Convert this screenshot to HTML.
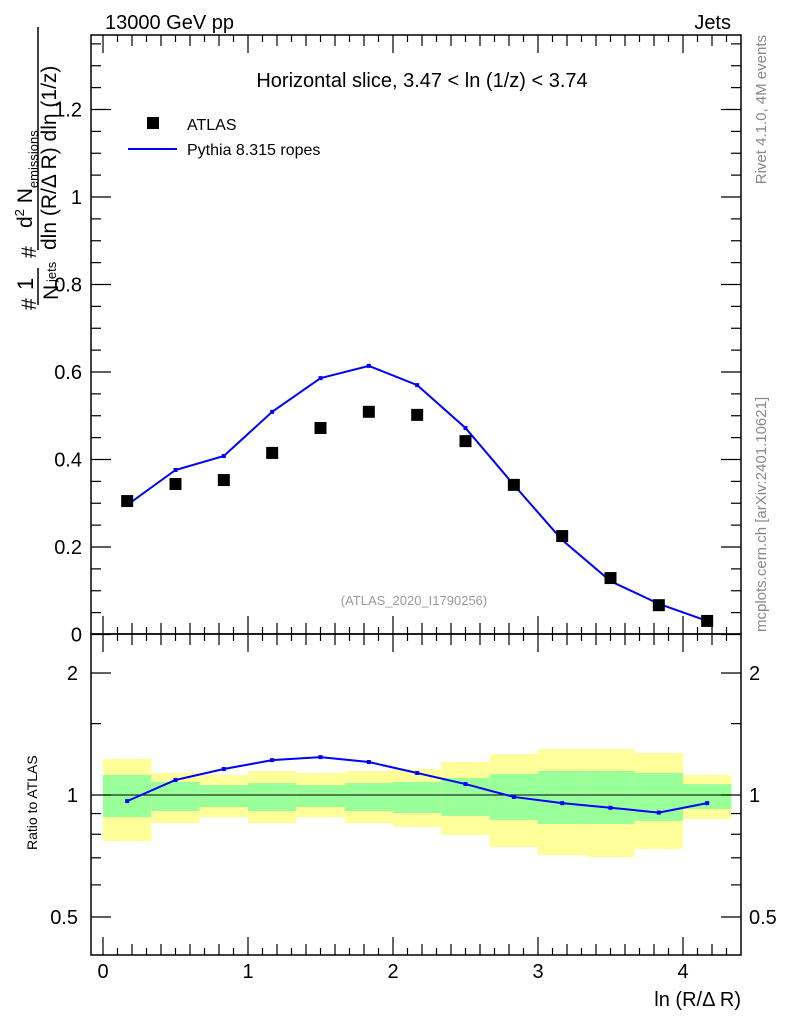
<!DOCTYPE html>
<html><head><meta charset="utf-8">
<style>
html,body{margin:0;padding:0;background:#fff;}
svg{display:block;font-family:"Liberation Sans",sans-serif;}
</style></head>
<body>
<svg id="chart" width="786" height="1024" viewBox="0 0 786 1024" xmlns="http://www.w3.org/2000/svg">
<g id="bands"></g>
<g id="frame"></g>
<g id="ticks"></g>
<g id="marks"></g>
<text x="105" y="29" font-size="20">13000 GeV pp</text>
<text x="731" y="29" font-size="20" text-anchor="end">Jets</text>
<text x="422" y="87" font-size="20" text-anchor="middle">Horizontal slice, 3.47 &lt; ln (1/z) &lt; 3.74</text>
<rect x="147" y="117" width="12" height="12" fill="#000"/>
<text x="187" y="130" font-size="16">ATLAS</text>
<line x1="128" y1="149" x2="177" y2="149" stroke="#00f" stroke-width="2"/>
<text x="187" y="155" font-size="16">Pythia 8.315 ropes</text>
<text x="414" y="605" font-size="13" fill="#999" text-anchor="middle">(ATLAS_2020_I1790256)</text>
<text transform="translate(766,35) rotate(-90)" font-size="15" fill="#888" text-anchor="end">Rivet 4.1.0,  4M events</text>
<text transform="translate(766,632) rotate(-90)" font-size="15" fill="#888">mcplots.cern.ch [arXiv:2401.10621]</text>
<g font-size="21">
<text transform="translate(36,310) rotate(-90)">#</text>
<text transform="translate(33,290) rotate(-90)" font-size="22">1</text>
<line x1="38" y1="305" x2="38" y2="268" stroke="#000" stroke-width="1.5"/>
<text transform="translate(58,300) rotate(-90)">N</text>
<text transform="translate(56,282) rotate(-90)" font-size="13">jets</text>
<text transform="translate(36,258) rotate(-90)">#</text>
<text transform="translate(32,228) rotate(-90)">d<tspan font-size="13" dy="-8">2</tspan><tspan dy="8"> N</tspan><tspan font-size="13" dy="6">emissions</tspan></text>
<line x1="38" y1="250" x2="38" y2="27" stroke="#000" stroke-width="1.5"/>
<text transform="translate(56,250) rotate(-90)">dln (R/Δ R) dln (1/z)</text>
</g>
<text transform="translate(37,850) rotate(-90)" font-size="14">Ratio to ATLAS</text>
<text x="741" y="1006" font-size="20" text-anchor="end">ln (R/Δ R)</text>
</svg>
<script>
const binEdges=[0,0.3333,0.6667,1,1.3333,1.6667,2,2.3333,2.6667,3,3.3333,3.6667,4,4.3333];
const xCenters=[0.1667,0.5,0.8333,1.1667,1.5,1.8333,2.1667,2.5,2.8333,3.1667,3.5,3.8333,4.1667];
const atlasValues=[0.305,0.344,0.353,0.415,0.472,0.509,0.502,0.442,0.342,0.225,0.129,0.067,0.031];
const pythiaValues=[0.296,0.376,0.408,0.509,0.586,0.614,0.570,0.472,0.342,0.216,0.122,0.070,0.031];
const ratioValues=[0.966,1.089,1.159,1.219,1.240,1.206,1.133,1.064,0.989,0.955,0.930,0.905,0.955];
const yellowHi=[1.227,1.133,1.120,1.146,1.133,1.146,1.159,1.206,1.262,1.298,1.298,1.269,1.120];
const yellowLo=[0.770,0.853,0.882,0.853,0.882,0.853,0.834,0.797,0.744,0.711,0.703,0.736,0.873];
const greenHi=[1.120,1.077,1.058,1.070,1.058,1.070,1.077,1.101,1.127,1.146,1.146,1.133,1.064];
const greenLo=[0.882,0.913,0.934,0.913,0.934,0.913,0.903,0.888,0.868,0.848,0.848,0.863,0.924];
const xTicks=[0,1,2,3,4];
const yTicks=[0,0.2,0.4,0.6,0.8,1,1.2];
const yTickLabels=["0","0.2","0.4","0.6","0.8","1","1.2"];
const rTicks=[0.5,1,2];
const rTickLabels=["0.5","1","2"];

const NS="http://www.w3.org/2000/svg";
const L=91,R=741,T=35,M=634,B=955;
const X=v=>103+145*v;
const Y=v=>634.5-437.5*v;
const RY=v=>795-122*Math.log2(v);
function mk(parent,tag,attrs){const e=document.createElementNS(NS,tag);for(const k in attrs)e.setAttribute(k,attrs[k]);document.getElementById(parent).appendChild(e);return e;}

for(let i=0;i<yellowHi.length;i++){
  const y=mk('bands','rect',{x:X(binEdges[i]),y:RY(yellowHi[i]),width:X(binEdges[i+1])-X(binEdges[i]),height:RY(yellowLo[i])-RY(yellowHi[i]),fill:'#ffff99'});
  
  
  const g=mk('bands','rect',{x:X(binEdges[i]),y:RY(greenHi[i]),width:X(binEdges[i+1])-X(binEdges[i]),height:RY(greenLo[i])-RY(greenHi[i]),fill:'#99ff99'});
  
  
}
const f1=mk('frame','rect',{x:L,y:T,width:R-L,height:M-T,fill:'none',stroke:'#000','stroke-width':1.5});


const f2=mk('frame','rect',{x:L,y:M,width:R-L,height:B-M,fill:'none',stroke:'#000','stroke-width':1.5});


const one=mk('frame','line',{x1:L,x2:R,y1:RY(1),y2:RY(1),stroke:'#000','stroke-width':1});



function tk(x1,y1,x2,y2){mk('ticks','line',{x1:x1,y1:y1,x2:x2,y2:y2,stroke:'#000','stroke-width':1.2});}
for(let r=0;r<=43;r++){
  const x=X(r/10);const maj=r%10===0;const len=maj?18:(r%2===0?11:7);
  tk(x,M,x,M-len);tk(x,T,x,T+len);tk(x,B,x,B-len);tk(x,M,x,M+len);
}
xTicks.forEach(v=>{const t=mk('ticks','text',{x:X(v),y:978,'font-size':20,'text-anchor':'middle'});t.textContent=v;
 });
for(let r=0;r<=27;r++){const y=Y(r*0.05);const maj=r%4===0;const len=maj?20:10;tk(L,y,L+len,y);tk(R,y,R-len,y);}
yTicks.forEach((v,i)=>{const t=mk('ticks','text',{x:82,y:Y(v)+7,'font-size':20,'text-anchor':'end'});t.textContent=yTickLabels[i];
 });
[0.5,0.6,0.7,0.8,0.9,1,1.5,2].forEach(v=>{const y=RY(v);const len=rTicks.includes(v)?20:10;tk(L,y,L+len,y);tk(R,y,R-len,y);});
rTicks.forEach((v,i)=>{const t=mk('ticks','text',{x:78,y:RY(v)+7,'font-size':20,'text-anchor':'end'});t.textContent=rTickLabels[i];
 
 const t2=mk('ticks','text',{x:749,y:RY(v)+7,'font-size':20});t2.textContent=rTickLabels[i];
 });

const pl=mk('marks','polyline',{points:xCenters.map((x,i)=>X(x)+','+Y(pythiaValues[i])).join(' '),fill:'none',stroke:'#00f','stroke-width':2});


xCenters.forEach((x,i)=>{const d=mk('marks','rect',{x:X(x)-2,y:Y(pythiaValues[i])-2,width:4,height:4,fill:'#00f'});
 });
xCenters.forEach((x,i)=>{const s=mk('marks','rect',{x:X(x)-6,y:Y(atlasValues[i])-6,width:12,height:12,fill:'#000'});
 });
const rl=mk('marks','polyline',{points:xCenters.map((x,i)=>X(x)+','+RY(ratioValues[i])).join(' '),fill:'none',stroke:'#00f','stroke-width':2});


xCenters.forEach((x,i)=>{const d=mk('marks','rect',{x:X(x)-2,y:RY(ratioValues[i])-2,width:4,height:4,fill:'#00f'});
 });
</script>
</body></html>
